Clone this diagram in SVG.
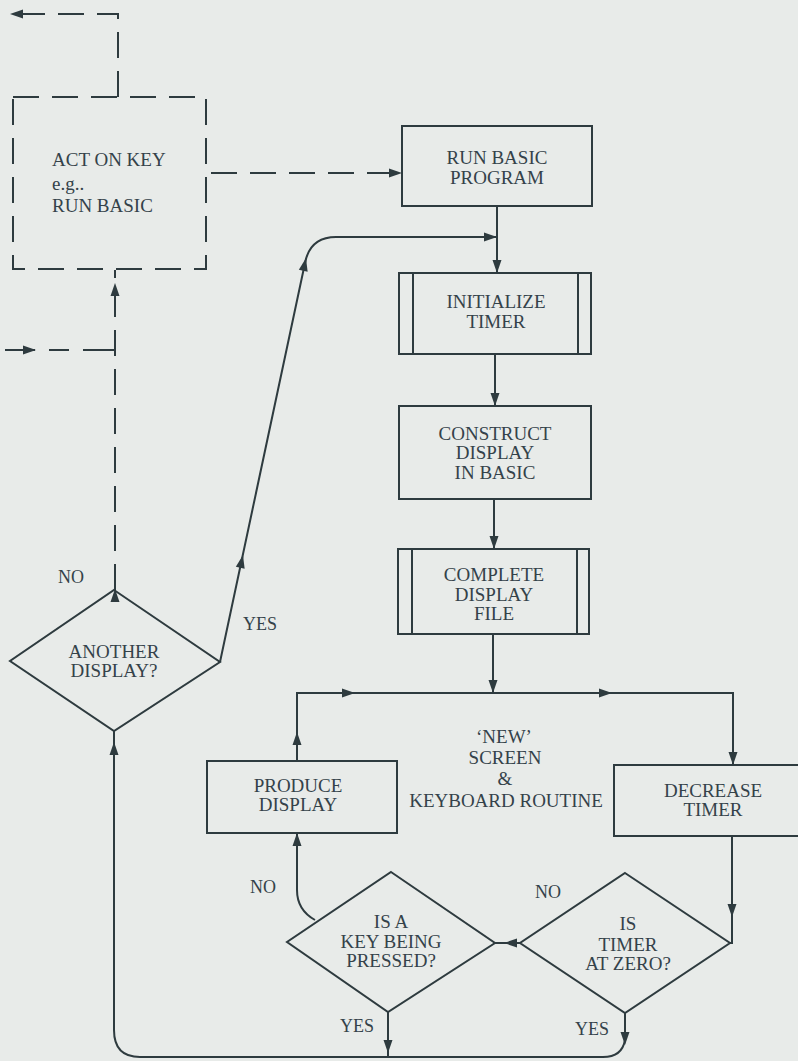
<svg xmlns="http://www.w3.org/2000/svg" xmlns:xlink="http://www.w3.org/1999/xlink" width="798" height="1061" viewBox="0 0 798 1061">
<defs>
<style>
.ln{fill:none;stroke:#2e3b3f;stroke-width:2;}
.ds{fill:none;stroke:#2e3b3f;stroke-width:2;stroke-dasharray:26 13;}
.bx{fill:none;stroke:#2e3b3f;stroke-width:2;}
.t{font-family:'Liberation Serif','DejaVu Serif','Times New Roman',serif;font-size:19px;fill:#34424a;text-anchor:middle;}
.l{font-family:'Liberation Serif','DejaVu Serif','Times New Roman',serif;font-size:18px;fill:#34424a;}
.ah{fill:#2e3b3f;}
</style>
<path id="ah" d="M0,0 L-13,-4.5 L-13,4.5 Z"/>
</defs>
<rect width="798" height="1061" fill="#e8ebe9"/>

<g id="act-on-key">
<rect x="13" y="97" width="193" height="172" class="ds"/>
<text class="t" x="52" y="166" style="text-anchor:start">ACT ON KEY</text>
<text class="t" x="52" y="190" style="text-anchor:start">e.g..</text>
<text class="t" x="52" y="212" style="text-anchor:start">RUN BASIC</text>
</g>

<g id="run-basic">
<rect x="402" y="126" width="190" height="80" class="bx"/>
<text class="t" x="497" y="164">RUN BASIC</text>
<text class="t" x="497" y="184">PROGRAM</text>
</g>

<g id="initialize-timer">
<rect x="399" y="273" width="192" height="81" class="bx"/>
<line x1="413" y1="273" x2="413" y2="354" class="ln"/>
<line x1="578" y1="273" x2="578" y2="354" class="ln"/>
<text class="t" x="496" y="308">INITIALIZE</text>
<text class="t" x="496" y="328">TIMER</text>
</g>

<g id="construct-display">
<rect x="399" y="406" width="192" height="93" class="bx"/>
<text class="t" x="495" y="440">CONSTRUCT</text>
<text class="t" x="495" y="459">DISPLAY</text>
<text class="t" x="495" y="479">IN BASIC</text>
</g>

<g id="complete-display">
<rect x="398" y="549" width="191" height="85" class="bx"/>
<line x1="412" y1="549" x2="412" y2="634" class="ln"/>
<line x1="577" y1="549" x2="577" y2="634" class="ln"/>
<text class="t" x="494" y="581">COMPLETE</text>
<text class="t" x="494" y="601">DISPLAY</text>
<text class="t" x="494" y="620">FILE</text>
</g>

<g id="another-display">
<polygon points="114,590 220,662 114,731 10,661" class="bx"/>
<text class="t" x="114" y="658">ANOTHER</text>
<text class="t" x="114" y="677">DISPLAY?</text>
</g>

<g id="routine-label">
<text class="t" x="504" y="743">‘NEW’</text>
<text class="t" x="505" y="764">SCREEN</text>
<text class="t" x="505" y="785">&amp;</text>
<text class="t" x="506" y="807">KEYBOARD ROUTINE</text>
</g>

<g id="produce-display">
<rect x="207" y="761" width="190" height="72" class="bx"/>
<text class="t" x="298" y="792">PRODUCE</text>
<text class="t" x="298" y="811">DISPLAY</text>
</g>

<g id="decrease-timer">
<rect x="614" y="765" width="198" height="71" class="bx"/>
<text class="t" x="713" y="797">DECREASE</text>
<text class="t" x="713" y="816">TIMER</text>
</g>

<g id="key-pressed">
<polygon points="391,872 495,943 388,1012 287,942" class="bx"/>
<text class="t" x="391" y="928">IS A</text>
<text class="t" x="391" y="948">KEY BEING</text>
<text class="t" x="391" y="967">PRESSED?</text>
</g>

<g id="timer-zero">
<polygon points="625,873 730,943 625,1013 520,943" class="bx"/>
<text class="t" x="628" y="930">IS</text>
<text class="t" x="628" y="951">TIMER</text>
<text class="t" x="628" y="970">AT ZERO?</text>
</g>

<g id="connectors">
<path d="M118,97 L118,14 L14,14" class="ds"/>
<use xlink:href="#ah" class="ah" transform="translate(10,14) rotate(180)"/>
<path d="M211,173 L390,173" class="ds"/>
<use xlink:href="#ah" class="ah" transform="translate(402,173)"/>
<path d="M115,590 L115,270" class="ds"/>
<use xlink:href="#ah" class="ah" transform="translate(115,283) rotate(-90)"/>
<use xlink:href="#ah" class="ah" transform="translate(115,589) rotate(-90)"/>
<path d="M5,350 L115,350" class="ds" style="stroke-dasharray:30 14 20 14 40"/>
<use xlink:href="#ah" class="ah" transform="translate(36,350)"/>

<path d="M220,662 L305,263 Q310,237 336,237 L497,237" class="ln"/>
<use xlink:href="#ah" class="ah" transform="translate(243,555) rotate(-77.7)"/>
<use xlink:href="#ah" class="ah" transform="translate(306,258) rotate(-77.7)"/>
<use xlink:href="#ah" class="ah" transform="translate(497,237)"/>

<path d="M497,206 L497,273" class="ln"/>
<use xlink:href="#ah" class="ah" transform="translate(497,273) rotate(90)"/>
<path d="M495,354 L495,406" class="ln"/>
<use xlink:href="#ah" class="ah" transform="translate(495,406) rotate(90)"/>
<path d="M494,499 L494,549" class="ln"/>
<use xlink:href="#ah" class="ah" transform="translate(494,549) rotate(90)"/>
<path d="M493,634 L493,693" class="ln"/>
<use xlink:href="#ah" class="ah" transform="translate(493,693) rotate(90)"/>

<path d="M297,761 L297,693 L733,693 L733,765" class="ln"/>
<use xlink:href="#ah" class="ah" transform="translate(297,732) rotate(-90)"/>
<use xlink:href="#ah" class="ah" transform="translate(355,693)"/>
<use xlink:href="#ah" class="ah" transform="translate(612,693)"/>
<use xlink:href="#ah" class="ah" transform="translate(733,765) rotate(90)"/>
<path d="M732,836 L732,943 L730,943" class="ln"/>
<use xlink:href="#ah" class="ah" transform="translate(732,917) rotate(90)"/>
<path d="M520,943 L495,943" class="ln"/>
<use xlink:href="#ah" class="ah" transform="translate(504,943) rotate(180)"/>
<path d="M315,920 Q297,910 297,890 L297,833" class="ln"/>
<use xlink:href="#ah" class="ah" transform="translate(297,833) rotate(-90)"/>

<path d="M625,1013 L625,1040 Q622,1057 603,1057 L140,1057 Q114,1057 114,1030 L114,731" class="ln"/>
<use xlink:href="#ah" class="ah" transform="translate(625,1045) rotate(90)"/>
<path d="M388,1012 L388,1057" class="ln"/>
<use xlink:href="#ah" class="ah" transform="translate(388,1053) rotate(90)"/>
<use xlink:href="#ah" class="ah" transform="translate(114,742) rotate(-90)"/>

<text class="l" x="58" y="583">NO</text>
<text class="l" x="243" y="630">YES</text>
<text class="l" x="250" y="893">NO</text>
<text class="l" x="535" y="898">NO</text>
<text class="l" x="340" y="1032">YES</text>
<text class="l" x="575" y="1035">YES</text>
</g>
</svg>
